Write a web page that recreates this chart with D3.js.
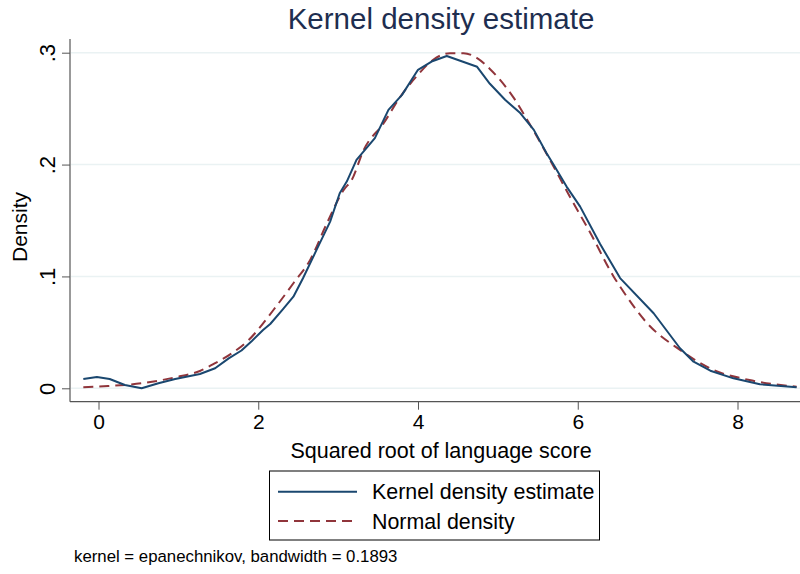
<!DOCTYPE html>
<html>
<head>
<meta charset="utf-8">
<script src="https://cdn.jsdelivr.net/npm/d3@7"></script>
<style>
  html, body { margin: 0; padding: 0; background: #fff; }
  svg { display: block; font-family: "Liberation Sans", Arial, sans-serif; }
</style>
</head>
<body>
<svg id="chart" width="800" height="574"></svg>
<script>
// ---- data ----
const kdeX = [-0.19, -0.02, 0.14, 0.33, 0.54, 0.75, 0.96, 1.27, 1.46, 1.63, 1.79, 1.92, 2.06, 2.15, 2.31, 2.44, 2.56, 2.73, 2.90, 3.02, 3.11, 3.23, 3.46, 3.63, 3.80, 4.00, 4.17, 4.36, 4.74, 4.90, 5.09, 5.28, 5.45, 5.61, 5.70, 5.86, 6.03, 6.28, 6.53, 6.95, 7.28, 7.45, 7.66, 7.95, 8.28, 8.74];
const kdeY = [0.0083, 0.0101, 0.0083, 0.0030, 0.0000, 0.0045, 0.0083, 0.0128, 0.0179, 0.0268, 0.0338, 0.0423, 0.0521, 0.0575, 0.0707, 0.0819, 0.0984, 0.1237, 0.1490, 0.1744, 0.1850, 0.2042, 0.2236, 0.2489, 0.2623, 0.2847, 0.2921, 0.2970, 0.2874, 0.2722, 0.2579, 0.2460, 0.2310, 0.2102, 0.1997, 0.1803, 0.1624, 0.1290, 0.0985, 0.0671, 0.0358, 0.0238, 0.0157, 0.0089, 0.0036, 0.0009];

const normX = [-0.19, 0.12, 0.54, 0.96, 1.27, 1.46, 1.67, 1.88, 2.19, 2.44, 2.65, 2.86, 3.07, 3.17, 3.32, 3.57, 3.78, 3.98, 4.19, 4.40, 4.57, 4.74, 4.90, 5.19, 5.40, 5.68, 5.90, 6.16, 6.45, 6.53, 6.87, 7.28, 7.70, 8.15, 8.74];
const normY = [0.0009, 0.0020, 0.0045, 0.0098, 0.0155, 0.0224, 0.0313, 0.0432, 0.0700, 0.0939, 0.1148, 0.1476, 0.1774, 0.1863, 0.2131, 0.2370, 0.2608, 0.2787, 0.2937, 0.2996, 0.2996, 0.2952, 0.2855, 0.2605, 0.2360, 0.2005, 0.1714, 0.1386, 0.0998, 0.0909, 0.0581, 0.0343, 0.0164, 0.0074, 0.0014];

const xTicks = [0, 2, 4, 6, 8];
const xTickLabels = ["0", "2", "4", "6", "8"];
const yTicks = [0, 0.1, 0.2, 0.3];
const yTickLabels = ["0", ".1", ".2", ".3"];

const titleText = "Kernel density estimate";
const xTitle = "Squared root of language score";
const yTitle = "Density";
const seriesNames = ["Kernel density estimate", "Normal density"];
const noteText = "kernel = epanechnikov, bandwidth = 0.1893";

// ---- layout ----
const svg = d3.select("#chart");
const plotLeft = 70, plotRight = 800, plotTop = 39, plotBottom = 401.7;
const x = d3.scaleLinear().domain([0, 8]).range([98.5, 737.5]);
const y = d3.scaleLinear().domain([0, 0.3]).range([388.3, 52.7]);

const navy = "#1a476f", maroon = "#90353b";
const fontFam = "Liberation Sans, Arial, sans-serif";

// gridlines
svg.append("g").selectAll("line").data(yTicks).join("line")
  .attr("x1", plotLeft + 1).attr("x2", plotRight)
  .attr("y1", d => y(d)).attr("y2", d => y(d))
  .attr("stroke", "#eaf2f3").attr("stroke-width", 1.5);

// x axis
const xAxis = d3.axisBottom(x).tickValues(xTicks)
  .tickFormat((d, i) => xTickLabels[i]).tickSize(8).tickPadding(4).tickSizeOuter(0);
const gx = svg.append("g").attr("transform", `translate(0,${plotBottom})`).call(xAxis);
gx.select(".domain").remove();
gx.selectAll(".tick line").attr("stroke", "#555").attr("stroke-width", 1);
gx.selectAll(".tick text").attr("font-size", 21).attr("fill", "#000")
  .attr("font-family", fontFam);
svg.append("line").attr("x1", plotLeft).attr("x2", plotRight)
  .attr("y1", plotBottom).attr("y2", plotBottom).attr("stroke", "#555").attr("stroke-width", 1.2);

// y axis
const yAxis = d3.axisLeft(y).tickValues(yTicks)
  .tickFormat((d, i) => yTickLabels[i]).tickSize(8).tickSizeOuter(0);
const gy = svg.append("g").attr("transform", `translate(${plotLeft},0)`).call(yAxis);
gy.select(".domain").remove();
gy.selectAll(".tick line").attr("stroke", "#555").attr("stroke-width", 1);
gy.selectAll(".tick text")
  .attr("font-size", 22).attr("fill", "#000")
  .attr("font-family", fontFam)
  .attr("x", null).attr("dy", null)
  .attr("text-anchor", "middle")
  .attr("transform", "translate(-15,0) rotate(-90)")
  .attr("y", 0);
svg.append("line").attr("x1", plotLeft).attr("x2", plotLeft)
  .attr("y1", plotTop).attr("y2", plotBottom).attr("stroke", "#555").attr("stroke-width", 1.2);

// curves
const line = d3.line().x(d => x(d[0])).y(d => y(d[1]));
const kde = kdeX.map((v, i) => [v, kdeY[i]]);
const norm = normX.map((v, i) => [v, normY[i]]);

svg.append("path").datum(norm).attr("d", d3.line().curve(d3.curveMonotoneX).x(d => x(d[0])).y(d => y(d[1])))
  .attr("fill", "none").attr("stroke", maroon).attr("stroke-width", 2)
  .attr("stroke-dasharray", "10,6");
svg.append("path").datum(kde).attr("d", line)
  .attr("fill", "none").attr("stroke", navy).attr("stroke-width", 2)
  .attr("stroke-linejoin", "round");

// titles
svg.append("text").attr("x", 441).attr("y", 29).attr("text-anchor", "middle")
  .attr("font-size", 29.5).attr("fill", "#1e2e50").text(titleText);
svg.append("text").attr("x", 441).attr("y", 458).attr("text-anchor", "middle")
  .attr("font-size", 21.5).attr("fill", "#000").text(xTitle);
svg.append("text").attr("transform", "translate(27,227) rotate(-90)")
  .attr("text-anchor", "middle").attr("font-size", 21).attr("fill", "#000").text(yTitle);

// legend
const lg = svg.append("g");
lg.append("rect").attr("x", 269.5).attr("y", 471).attr("width", 330).attr("height", 69)
  .attr("fill", "#fff").attr("stroke", "#000").attr("stroke-width", 1);
const legendRows = [
  { name: seriesNames[0], color: navy, dash: null, yy: 491.7 },
  { name: seriesNames[1], color: maroon, dash: "10,6", yy: 521 }
];
legendRows.forEach(r => {
  lg.append("line").attr("x1", 278).attr("x2", 357).attr("y1", r.yy).attr("y2", r.yy)
    .attr("stroke", r.color).attr("stroke-width", 2)
    .attr("stroke-dasharray", r.dash);
  lg.append("text").attr("x", 372).attr("y", r.yy + 7.5).attr("font-size", 21.4)
    .attr("fill", "#000").text(r.name);
});

// note
svg.append("text").attr("x", 74).attr("y", 562).attr("font-size", 16.8)
  .attr("fill", "#000").text(noteText);
</script>
</body>
</html>
